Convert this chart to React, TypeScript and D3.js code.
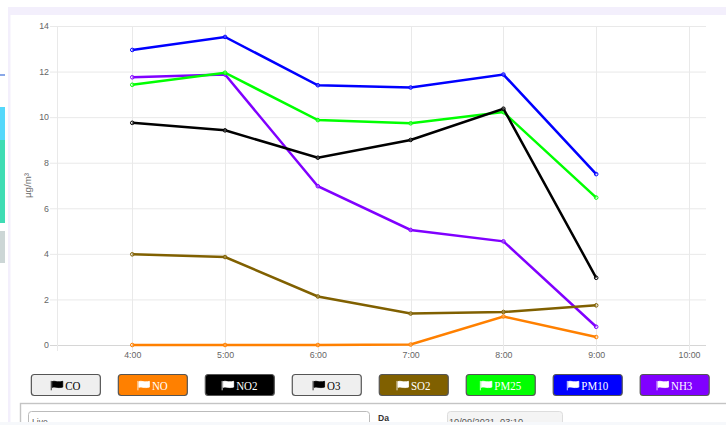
import React, { useRef, useEffect } from 'react';
import * as d3 from 'd3';

const hours = [4, 5, 6, 7, 8, 9];
const tickHours = [4, 5, 6, 7, 8, 9, 10];
const yTicks = [0, 2, 4, 6, 8, 10, 12, 14];

const no = [0, 0, 0, 0.02, 1.25, 0.35];
const no2 = [9.75, 9.42, 8.22, 9.0, 10.37, 2.95];
const so2 = [3.98, 3.86, 2.13, 1.38, 1.45, 1.74];
const pm25 = [11.42, 11.95, 9.87, 9.73, 10.22, 6.47];
const pm10 = [12.95, 13.52, 11.4, 11.3, 11.87, 7.5];
const nh3 = [11.75, 11.87, 6.97, 5.05, 4.55, 0.8];

const buttonNames = ['CO', 'NO', 'NO2', 'O3', 'SO2', 'PM25', 'PM10', 'NH3'];
const buttonFills = ['#efefef', '#ff8000', '#000000', '#efefef', '#806000', '#00ff00', '#0000ff', '#8000ff'];
const buttonInk = ['#000000', '#ffffff', '#ffffff', '#000000', '#ffffff', '#ffffff', '#ffffff', '#ffffff'];

// first dataset ends up on top, so drawn back to front
const lines = [
  { name: 'NH3', color: '#8000ff', values: nh3 },
  { name: 'PM10', color: '#0000ff', values: pm10 },
  { name: 'PM25', color: '#00ff00', values: pm25 },
  { name: 'SO2', color: '#806000', values: so2 },
  { name: 'NO2', color: '#000000', values: no2 },
  { name: 'NO', color: '#ff8000', values: no },
];

const flagPath = 'M0,-4.6 V4.8 M1,-3.9 C3.5,-5 6,-2.8 11.5,-4.2 V1.6 C6,3 3.5,0.8 1,1.9 Z';

const App = () => {
  const svgRef = useRef<SVGSVGElement>(null);

  useEffect(() => {
    const svg = d3.select(svgRef.current);
    svg.selectAll('*').remove();

    // page behind the chart
    const rects: [number, number, number, number, string][] = [
      [8, 0, 718, 425, '#ffffff'],
      [8, 7, 718, 8, '#f3effc'],
      [8, 7, 2.5, 418, '#f3effc'],
      [0, 107, 5, 33, '#55d8fb'],
      [0, 140, 5, 83, '#3fdcb4'],
      [0, 231, 5, 32, '#ccd6d6'],
      [0, 74, 5, 2, '#8aa8e8'],
    ];
    svg.selectAll('rect.bg')
      .data(rects)
      .enter()
      .append('rect')
      .attr('class', 'bg')
      .attr('x', (d) => d[0])
      .attr('y', (d) => d[1])
      .attr('width', (d) => d[2])
      .attr('height', (d) => d[3])
      .attr('fill', (d) => d[4]);

    const x = d3.scaleLinear().domain([3 + 11 / 60, 10 + 11 / 60]).range([56.5, 706]);
    const y = d3.scaleLinear().domain([0, 14]).range([345, 26]);

    // grid
    svg.append('g')
      .selectAll('line')
      .data(yTicks)
      .enter()
      .append('line')
      .attr('x1', 50)
      .attr('x2', 706)
      .attr('y1', (d) => y(d) + 0.5)
      .attr('y2', (d) => y(d) + 0.5)
      .attr('stroke', (d) => (d === 0 ? '#d6d6d6' : '#e9e9e9'));

    svg.append('g')
      .selectAll('line')
      .data([3 + 11 / 60, ...tickHours])
      .enter()
      .append('line')
      .attr('x1', (d) => Math.round(x(d)) + 0.5)
      .attr('x2', (d) => Math.round(x(d)) + 0.5)
      .attr('y1', 26)
      .attr('y2', 351)
      .attr('stroke', '#e9e9e9');

    // tick labels
    const tickFont = '"Liberation Sans", Arial, sans-serif';
    const xAxis = svg.append('g')
      .attr('transform', 'translate(0,345)')
      .call(d3.axisBottom(x).tickValues(tickHours).tickFormat((d) => `${d}:00`).tickSize(0).tickPadding(7));
    xAxis.select('.domain').remove();
    xAxis.selectAll('text').attr('fill', '#666').style('font', `8.8px ${tickFont}`);

    const yAxis = svg.append('g')
      .attr('transform', 'translate(49,0)')
      .call(d3.axisLeft(y).tickValues(yTicks).tickSize(0).tickPadding(0));
    yAxis.select('.domain').remove();
    yAxis.selectAll('text').attr('fill', '#666').style('font', `8.8px ${tickFont}`);

    svg.append('text')
      .attr('transform', 'translate(31,185.5) rotate(-90)')
      .attr('text-anchor', 'middle')
      .attr('fill', '#666')
      .style('font', `9.7px ${tickFont}`)
      .text('µg/m³');

    // series
    const line = d3.line<number>()
      .x((d, i) => x(hours[i]))
      .y((d) => y(d));

    lines.forEach((s) => {
      const g = svg.append('g');
      g.append('path')
        .attr('d', line(s.values))
        .attr('fill', 'none')
        .attr('stroke', s.color)
        .attr('stroke-width', 2.5);
      g.selectAll('circle')
        .data(s.values)
        .enter()
        .append('circle')
        .attr('cx', (d, i) => x(hours[i]))
        .attr('cy', (d) => y(d))
        .attr('r', 1.8)
        .attr('fill', '#ffffff')
        .attr('fill-opacity', 0.25)
        .attr('stroke', s.color)
        .attr('stroke-width', 1);
    });

    // toggle buttons
    const squeeze = 0.87;
    const bx = d3.scalePoint<string>().domain(buttonNames).range([65.85, 674.7]);
    const btn = svg.selectAll('g.btn')
      .data(buttonNames)
      .enter()
      .append('g')
      .attr('class', 'btn')
      .attr('transform', (d) => `translate(${bx(d)},385)`);
    btn.append('rect')
      .attr('x', -34.5)
      .attr('y', -10.5)
      .attr('width', 69)
      .attr('height', 21)
      .attr('rx', 3)
      .attr('fill', (d, i) => buttonFills[i])
      .attr('stroke', '#555')
      .attr('stroke-width', 1.2);
    const labels = btn.append('text')
      .attr('y', 4.5)
      .attr('fill', (d, i) => buttonInk[i])
      .style('font', '12.6px "Liberation Serif", serif')
      .text((d) => d);
    // icon and label are centred together, so the label width decides both
    labels.each(function () {
      const el = this as SVGTextElement;
      const w = el.getComputedTextLength() * squeeze;
      const start = -(w + 14) / 2;
      d3.select(el).attr('transform', `translate(${start + 14},0) scale(${squeeze},1)`);
      d3.select(el.parentNode as SVGGElement)
        .append('path')
        .attr('d', flagPath)
        .attr('transform', `translate(${start},0.5)`)
        .attr('fill', el.getAttribute('fill'))
        .attr('stroke', el.getAttribute('fill'))
        .attr('stroke-width', 0.8);
    });

    // form panel, cut off by the bottom of the screenshot
    svg.append('rect')
      .attr('x', 20.5)
      .attr('y', 403.5)
      .attr('width', 720)
      .attr('height', 40)
      .attr('fill', '#fff')
      .attr('stroke', '#c4c4c4')
      .attr('stroke-width', 1.4);
    svg.append('rect')
      .attr('x', 28.5)
      .attr('y', 411.5)
      .attr('width', 341)
      .attr('height', 30)
      .attr('rx', 3)
      .attr('fill', '#fff')
      .attr('stroke', '#bbb');
    svg.append('text')
      .attr('x', 32)
      .attr('y', 424.5)
      .attr('fill', '#555')
      .style('font', `8.6px ${tickFont}`)
      .text('Live');
    svg.append('text')
      .attr('x', 378)
      .attr('y', 421)
      .attr('fill', '#333')
      .style('font', `bold 8.6px ${tickFont}`)
      .text('Da');
    svg.append('rect')
      .attr('x', 447.5)
      .attr('y', 411.5)
      .attr('width', 115)
      .attr('height', 30)
      .attr('rx', 3)
      .attr('fill', '#f4f4f4')
      .attr('stroke', '#ddd');
    svg.append('text')
      .attr('x', 449)
      .attr('y', 425)
      .attr('fill', '#555')
      .style('font', `9.2px ${tickFont}`)
      .text('10/09/2021, 03:10');
    svg.append('rect')
      .attr('x', 0)
      .attr('y', 422)
      .attr('width', 726)
      .attr('height', 3)
      .attr('fill', '#f6f8fb');
  }, []);

  return (
    <svg
      ref={svgRef}
      width={726}
      height={425}
      style={{ position: 'absolute', left: 0, top: 0, display: 'block', background: '#fff' }}
    ></svg>
  );
};

export default App;
